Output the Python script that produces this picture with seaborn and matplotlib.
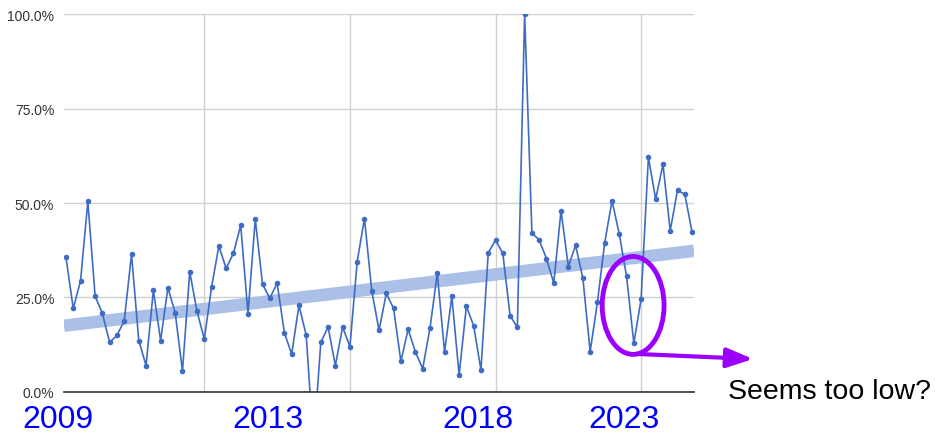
import numpy as np
import pandas as pd
import matplotlib.pyplot as plt
import seaborn as sns
from matplotlib.patches import Ellipse

# quarterly values (%)
values = [35.6, 22.1, 29.4, 50.5, 25.4, 20.8, 13.1, 15.0, 18.8, 36.4,
          13.6, 7.0, 26.9, 13.6, 27.6, 20.9, 5.6, 31.8, 21.3, 14.0,
          27.8, 38.6, 32.7, 36.7, 44.1, 20.7, 45.7, 28.5, 24.8, 28.8,
          15.7, 10.0, 22.9, 15.0, -14.0, 13.1, 17.2, 7.0, 17.2, 12.0,
          34.5, 45.9, 26.8, 16.3, 26.1, 22.1, 8.1, 16.6, 10.5, 6.2,
          16.9, 31.4, 10.6, 25.3, 4.5, 22.7, 17.5, 5.8, 36.8, 40.2,
          36.7, 20.2, 17.1, 100.0, 42.1, 40.2, 35.3, 28.8, 48.0, 33.2,
          38.8, 30.1, 10.7, 23.8, 39.5, 50.6, 41.8, 30.6, 12.9, 24.6,
          62.1, 51.0, 60.2, 42.7, 53.4, 52.3, 42.3]
y_ticks = [0, 25, 50, 75, 100]
y_tick_labels = ['0.0%', '25.0%', '50.0%', '75.0%', '100.0%']
grid_x = [19, 39, 59, 79]
year_labels = ['2009', '2013', '2018', '2023']
note = 'Seems too low?'

df = pd.DataFrame({'q': np.arange(len(values)), 'pct': values})

sns.set_style('white')
plt.rcParams['font.family'] = ['Liberation Sans', 'DejaVu Sans']

fig = plt.figure(figsize=(9.36, 4.39), dpi=100)
ax = fig.add_axes([0.0684, 0.1048, 0.6731, 0.861])
ax.set_xlim(-0.27, 86.27)  # set first so the trend spans the full width

line_blue = '#3e6cc4'
sns.regplot(data=df, x='q', y='pct', scatter=False, ci=None, truncate=False,
            ax=ax, line_kws=dict(color='#aac0e6', lw=9, solid_capstyle='butt', zorder=2))
sns.lineplot(data=df, x='q', y='pct', ax=ax, color=line_blue, lw=1.2,
             marker='o', markersize=4, markeredgewidth=0, zorder=3)

ax.set_xlim(-0.27, 86.27)
ax.set_ylim(0, 100)
ax.set_yticks(y_ticks)
ax.set_yticklabels(y_tick_labels)
ax.set_xticks(grid_x)
ax.set_xticklabels([])
ax.grid(True, color='#d0d0d0', lw=1)
ax.set_axisbelow(True)
ax.tick_params(axis='y', length=4, color='#cccccc', labelsize=10, labelcolor='#333333', pad=3)
ax.tick_params(axis='x', length=0)
ax.set_xlabel('')
ax.set_ylabel('')
for s in ['top', 'right', 'left']:
    ax.spines[s].set_visible(False)
ax.spines['bottom'].set_color('#333333')
ax.spines['bottom'].set_linewidth(1.2)
ax.spines['bottom'].set_zorder(5)

# year labels under the chart
for xp, lab in zip([58, 268, 478, 624], year_labels):
    fig.text(xp / 936, 1 - 420 / 439, lab, color='#0000ff', fontsize=23,
             ha='center', va='center')

# circle + arrow + note
purple = '#9b00ff'
ax.add_patch(Ellipse((77.9, 22.9), 8.5, 25.9, fill=False, ec=purple, lw=3.5,
                     zorder=6, clip_on=False))
ax.annotate('', xy=(753 / 936, 1 - 360 / 439), xycoords='figure fraction',
            xytext=(638 / 936, 1 - 355 / 439), textcoords='figure fraction',
            arrowprops=dict(arrowstyle='-|>,head_length=1.6,head_width=0.6',
                            color=purple, lw=3, shrinkA=0, shrinkB=0))
fig.text(728 / 936, 1 - 392 / 439, note, fontsize=20.5, color='black',
         ha='left', va='center')

fig.savefig('out.png', dpi=100)
